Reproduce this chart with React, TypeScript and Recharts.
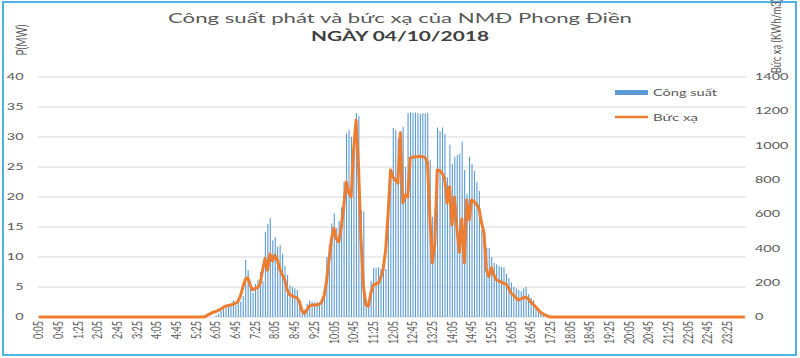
import React from 'react';
import { ComposedChart, Bar, Line, XAxis, YAxis, CartesianGrid, Legend } from 'recharts';

// Công suất (MW), one value every 5 minutes from 0:05
const power = [
  0,0,0,0,0,0,0,0,0,0,0,0,
  0,0,0,0,0,0,0,0,0,0,0,0,
  0,0,0,0,0,0,0,0,0,0,0,0,
  0,0,0,0,0,0,0,0,0,0,0,0,
  0,0,0,0,0,0,0,0,0,0,0,0,
  0,0,0,0,0,0,0,0,0,0,0,0,
  0.3,0.6,1.0,1.3,1.6,2.0,2.3,2.8,2.0,2.5,2.6,3.5,
  9.5,7.8,6.0,4.0,5.5,6.2,7.5,6.0,14.2,15.5,16.5,12.8,
  13.3,11.7,12.0,10.5,8.5,7.0,5.3,5.0,4.8,4.5,2.8,1.5,
  1.2,2.2,2.8,2.5,2.4,2.6,2.5,3.0,4.5,10.0,12.0,15.6,
  17.3,14.8,16.0,18.3,22.5,30.6,31.2,30.0,29.5,34.0,33.5,17.8,
  17.6,3.0,2.5,6.0,8.2,8.2,8.3,8.0,8.2,8.0,16.7,23.3,
  31.5,31.2,29.8,31.0,31.7,25.0,34.0,34.1,34.0,34.1,34.0,33.8,
  34.0,33.9,34.0,26.2,16.7,18.0,31.6,31.0,31.6,30.5,23.3,28.7,
  25.5,26.7,27.0,27.2,29.2,24.5,20.5,26.7,25.5,24.3,22.5,21.0,
  14.5,14.0,11.5,11.5,10.0,9.0,8.8,8.5,8.3,8.3,7.2,6.5,
  5.8,5.0,4.8,4.5,4.3,4.8,5.0,3.8,3.2,2.8,1.7,1.2,
  0.8,0.3,0,0,0,0,0,0,0,0,0,0,
  0,0,0,0,0,0,0,0,0,0,0,0,
  0,0,0,0,0,0,0,0,0,0,0,0,
  0,0,0,0,0,0,0,0,0,0,0,0,
  0,0,0,0,0,0,0,0,0,0,0,0,
  0,0,0,0,0,0,0,0,0,0,0,0,
  0,0,0,0,0,0,0,0,0,0,0,0,
];

// Bức xạ, one value every 5 minutes from 0:05
const radiation = [
  0,0,0,0,0,0,0,0,0,0,0,0,
  0,0,0,0,0,0,0,0,0,0,0,0,
  0,0,0,0,0,0,0,0,0,0,0,0,
  0,0,0,0,0,0,0,0,0,0,0,0,
  0,0,0,0,0,0,0,0,0,0,0,0,
  0,0,0,0,0,0,0,0,4,14,21,28,
  32,39,46,56,63,67,70,74,81,91,123,175,
  221,228,182,158,168,172,193,273,343,273,368,326,
  361,333,280,245,217,158,130,123,116,112,88,35,
  21,42,63,70,70,70,74,88,123,210,333,455,
  518,455,438,525,648,788,725,700,973,1148,875,448,
  175,70,63,140,186,193,196,228,280,385,595,858,
  816,798,781,1075,665,711,700,928,931,935,935,938,
  935,931,903,585,315,420,858,854,840,805,665,760,
  536,700,515,378,571,315,683,567,683,672,658,630,
  550,490,273,235,287,245,217,210,203,196,193,168,
  140,126,112,98,105,112,116,105,88,74,60,42,
  28,18,11,4,0,0,0,0,0,0,0,0,
  0,0,0,0,0,0,0,0,0,0,0,0,
  0,0,0,0,0,0,0,0,0,0,0,0,
  0,0,0,0,0,0,0,0,0,0,0,0,
  0,0,0,0,0,0,0,0,0,0,0,0,
  0,0,0,0,0,0,0,0,0,0,0,0,
  0,0,0,0,0,0,0,0,0,0,0,0,
];

const leftTicks = [0, 5, 10, 15, 20, 25, 30, 35, 40];
const rightTicks = [0, 200, 400, 600, 800, 1000, 1200, 1400];

const times: string[] = power.map((_, i) => {
  const m = 5 + i * 5;
  const h = Math.floor(m / 60);
  const mm = m % 60;
  return `${h}:${mm < 10 ? '0' + mm : mm}`;
});

const data = times.map((t, i) => ({ time: t, power: power[i], rad: radiation[i] }));

const FONT = 'Lato, "Open Sans", sans-serif';
const GREY = '#595959';

const LeftTick = (props: any) => {
  const { x, y, payload } = props;
  return (
    <text transform={`translate(${x},${y}) scale(1.6,1)`} textAnchor="end" dy="0.35em"
      fontSize={9} fill={GREY} fontFamily={FONT}>{payload.value}</text>
  );
};

const RightTick = (props: any) => {
  const { x, y, payload } = props;
  return (
    <text transform={`translate(${x},${y}) scale(1.6,1)`} textAnchor="start" dy="0.35em"
      fontSize={9} fill={GREY} fontFamily={FONT}>{payload.value}</text>
  );
};

const TimeTick = (props: any) => {
  const { x, y, payload } = props;
  return (
    <text transform={`translate(${x},${y}) scale(1.45,1) rotate(-90)`} textAnchor="end" dy="0.35em"
      fontSize={9} fill={GREY} fontFamily={FONT}>{payload.value}</text>
  );
};

const LegendContent = () => (
  <svg width={130} height={50} style={{ display: 'block' }}>
    <rect x={3} y={10} width={33} height={5} fill="#5b9bd5" />
    <text x={41} y={12.5} dy="0.35em" fontSize={10} fill={GREY} fontFamily={FONT}
      textLength={64} lengthAdjust="spacingAndGlyphs">Công suất</text>
    <line x1={3} x2={36} y1={37} y2={37} stroke="#ed7d31" strokeWidth={2.5} />
    <text x={41} y={37} dy="0.35em" fontSize={10} fill={GREY} fontFamily={FONT}
      textLength={45} lengthAdjust="spacingAndGlyphs">Bức xạ</text>
  </svg>
);

export default function App() {
  return (
    <div style={{ position: 'absolute', left: 0, top: 0, width: 800, height: 358, background: '#fff' }}>
      <div style={{ position: 'absolute', left: 2, top: 1, width: 791, height: 351, border: '2px solid #4fb3e8' }} />
      <div style={{ position: 'absolute', left: 0, top: 0 }}>
        <ComposedChart width={800} height={358} data={data}
          margin={{ top: 77, right: 0, bottom: 0, left: 0 }}>
          <CartesianGrid yAxisId="left" vertical={false} stroke="#d9d9d9" />
          <XAxis dataKey="time" interval={7} height={41} tickLine={false} axisLine={false}
            tickSize={0} tickMargin={4} tick={<TimeTick />} />
          <YAxis yAxisId="left" orientation="left" width={37.5} domain={[0, 40]} ticks={leftTicks}
            tickLine={false} axisLine={false} tickSize={0} tickMargin={14} tick={<LeftTick />} />
          <YAxis yAxisId="right" orientation="right" width={54} domain={[0, 1400]} ticks={rightTicks}
            tickLine={false} axisLine={false} tickSize={0} tickMargin={9} tick={<RightTick />} />
          <Legend layout="vertical" align="center" verticalAlign="middle"
            wrapperStyle={{ left: 612, top: 80, width: 130, height: 50 }} content={<LegendContent />} />
          <Bar yAxisId="left" dataKey="power" name="Công suất" fill="#5b9bd5" barSize={1.1}
            isAnimationActive={false} />
          <Line yAxisId="right" dataKey="rad" name="Bức xạ" type="linear" stroke="#ed7d31"
            strokeWidth={3} dot={false} strokeLinejoin="round" isAnimationActive={false} />
        </ComposedChart>
      </div>
      <svg width={800} height={358} style={{ position: 'absolute', left: 0, top: 0, pointerEvents: 'none' }}>
        <text x={400} y={18} textAnchor="middle" dy="0.35em" fontSize={14} fill={GREY} fontFamily={FONT}
          textLength={464} lengthAdjust="spacingAndGlyphs">Công suất phát và bức xạ của NMĐ Phong Điền</text>
        <text x={400} y={36} textAnchor="middle" dy="0.35em" fontSize={14} fontWeight="bold" fill="#404040"
          fontFamily={FONT} textLength={178} lengthAdjust="spacingAndGlyphs">NGÀY 04/10/2018</text>
        <text transform="translate(22,40) scale(1.45,1) rotate(-90)" textAnchor="middle" dy="0.35em"
          fontSize={10} fill={GREY} fontFamily={FONT}>P(MW)</text>
        <text transform="translate(776,36) scale(1.45,1) rotate(-90)" textAnchor="middle" dy="0.35em"
          fontSize={9.5} fill={GREY} fontFamily={FONT}>Bức xạ (KWh/m3)</text>
      </svg>
    </div>
  );
}
